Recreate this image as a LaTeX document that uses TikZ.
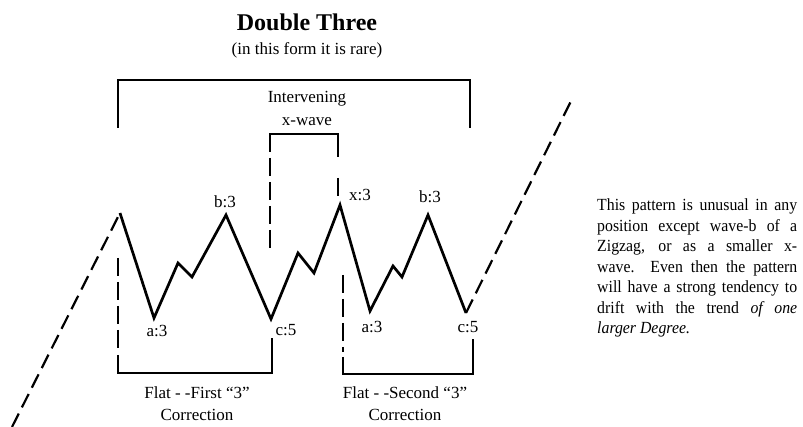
\documentclass[tikz,border=0pt]{standalone}
\usepackage{fontspec}
\setmainfont{Liberation Serif}
\newfontfamily\notefont[FakeStretch=0.93]{Liberation Serif}
\newcommand{\noteline}[1]{\hbox to 200pt{#1}}
\begin{document}
\begin{tikzpicture}[x=1pt,y=-1pt,
  wave/.style={line width=2.7pt, line join=miter},
  brk/.style={line width=1.8pt},
  dashline/.style={line width=2.2pt, dash pattern=on 15pt off 7pt},
  brkdash/.style={line width=1.8pt, dash pattern=on 18pt off 6pt},
  lbl/.style={font=\fontsize{17}{20}\selectfont, inner sep=0pt},
  captxt/.style={font=\fontsize{17}{22}\selectfont, align=center, inner sep=0pt}]
\useasboundingbox (0,0) rectangle (803,427);
% wave points
\coordinate (s0) at (12,427);
\coordinate (p0) at (120,213);
\coordinate (a1) at (154,318);
\coordinate (m1) at (178,263);
\coordinate (n1) at (192,277);
\coordinate (b1) at (226,215);
\coordinate (c1) at (271,319);
\coordinate (m2) at (298,253);
\coordinate (n2) at (314,273);
\coordinate (x1) at (340,205);
\coordinate (a2) at (370,311);
\coordinate (m3) at (393,266);
\coordinate (n3) at (402,277);
\coordinate (b2) at (428,215);
\coordinate (c2) at (466,313);
\coordinate (e0) at (572,99);
\draw[dashline] (s0) -- (p0);
\draw[wave] (p0) -- (a1) -- (m1) -- (n1) -- (b1) -- (c1) -- (m2) -- (n2) -- (x1) -- (a2) -- (m3) -- (n3) -- (b2) -- (c2);
\draw[dashline] (c2) -- (e0);
% big bracket
\coordinate (B1) at (118,128);
\coordinate (B2) at (118,80);
\coordinate (B3) at (470,80);
\coordinate (B4) at (470,128);
\draw[brk] (B1) -- (B2) -- (B3) -- (B4);
% small bracket (x-wave)
\coordinate (S1) at (270,152);
\coordinate (S2) at (270,134);
\coordinate (S3) at (338,134);
\coordinate (S4) at (338,157);
\coordinate (S5) at (270,248);
\coordinate (S6) at (338,178);
\coordinate (S7) at (338,196);
\draw[brk] (S1) -- (S2) -- (S3) -- (S4);
\draw[brkdash, dash phase=18pt] (S1) -- (S5);
\draw[brk] (S6) -- (S7);
% lower left bracket
\coordinate (L1) at (118,258);
\coordinate (L2) at (118,350);
\coordinate (L3) at (118,355);
\coordinate (L4) at (118,373);
\coordinate (L5) at (272,373);
\coordinate (L6) at (272,338);
\draw[brkdash] (L1) -- (L2);
\draw[brk] (L3) -- (L4) -- (L5) -- (L6);
% lower right bracket
\coordinate (R1) at (343,275);
\coordinate (R2) at (343,352);
\coordinate (R3) at (343,357);
\coordinate (R4) at (343,374);
\coordinate (R5) at (473,374);
\coordinate (R6) at (473,339);
\draw[brkdash] (R1) -- (R2);
\draw[brk] (R3) -- (R4) -- (R5) -- (R6);
% labels
\node[lbl] (lb1) at (225,202) {b:3};
\node[lbl] (lx) at (360,195) {x:3};
\node[lbl] (lb2) at (430,197) {b:3};
\node[lbl] (la1) at (157,331) {a:3};
\node[lbl] (lc1) at (286,330) {c:5};
\node[lbl] (la2) at (372,327) {a:3};
\node[lbl] (lc2) at (468,327) {c:5};
% titles
\node[inner sep=0pt, font=\fontsize{24}{28}\selectfont\bfseries] (title) at (307,22) {Double Three};
\node[lbl] (sub) at (307,50) {(in this form it is rare)};
\node[captxt, font=\fontsize{17}{23}\selectfont] (xw) at (307,108) {Intervening\\x-wave};
\node[captxt] (f1) at (197,404) {Flat - -First “3”\\Correction};
\node[captxt] (f2) at (405,404) {Flat - -Second “3”\\Correction};
% side text
\node[anchor=base west, inner sep=0pt, font=\notefont\fontsize{17}{20.5}\selectfont] (note) at (597,211)
{\vtop{\hsize=200pt \baselineskip=20.5pt \lineskiplimit=-10pt
\noteline{This pattern is unusual in any}
\noteline{position except wave-b of a}
\noteline{Zigzag, or as a smaller x-}
\noteline{wave.\ \ Even then the pattern}
\noteline{will have a strong tendency to}
\noteline{drift with the trend \textit{of one}}
\hbox{\textit{larger Degree.}}}};
\end{tikzpicture}
\end{document}
